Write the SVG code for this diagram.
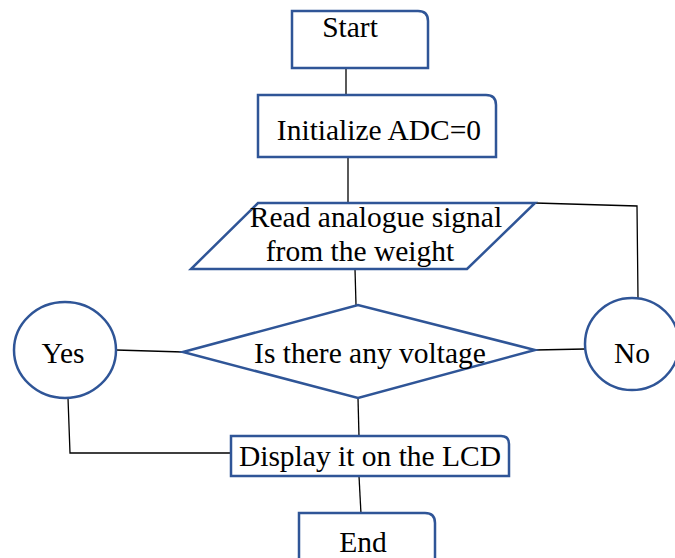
<svg xmlns="http://www.w3.org/2000/svg" width="675" height="558" viewBox="0 0 675 558">
<style>
.s{fill:#fff;stroke:#2F5597;stroke-width:2.5}
.c{fill:none;stroke:#000;stroke-width:1.3}
text{font-family:"Liberation Serif","Times New Roman",serif;font-size:29.5px;fill:#000;text-anchor:middle}
</style>
<rect width="675" height="558" fill="#fff"/>
<g id="connectors">
<line class="c" x1="346" y1="68" x2="346" y2="95"/>
<line class="c" x1="348" y1="157" x2="348" y2="203"/>
<polyline class="c" points="535,203 637,206 638,298"/>
<line class="c" x1="355" y1="269" x2="356" y2="305"/>
<line class="c" x1="116" y1="350" x2="183" y2="352"/>
<line class="c" x1="535" y1="350" x2="585" y2="349"/>
<line class="c" x1="358" y1="398" x2="359" y2="437"/>
<polyline class="c" points="68,398 70,453 232,453"/>
<line class="c" x1="359" y1="476" x2="361" y2="514"/>
</g>
<g id="start">
<path class="s" d="M292,11 H418 Q428,11 428,21 V68 H292 Z"/>
<text x="350" y="37">Start</text>
</g>
<g id="init">
<path class="s" d="M258,95 H486 Q496,95 496,105 V157 H258 Z"/>
<text x="379" y="140">Initialize ADC=0</text>
</g>
<g id="read">
<polygon class="s" points="258,203 535,203 467,269 191,269"/>
<text x="376" y="227">Read analogue signal</text>
<text x="360" y="261">from the weight</text>
</g>
<g id="decision">
<polygon class="s" points="183,352 358,305 535,350 358,398"/>
<text x="370" y="363">Is there any voltage</text>
</g>
<g id="yes">
<ellipse class="s" cx="65" cy="350" rx="51" ry="48"/>
<text x="63" y="363">Yes</text>
</g>
<g id="no">
<ellipse class="s" cx="632" cy="344" rx="47" ry="46"/>
<text x="632" y="363">No</text>
</g>
<g id="display">
<path class="s" d="M231,436 H501 Q509,436 509,444 V476 H231 Z"/>
<text x="370" y="466">Display it on the LCD</text>
</g>
<g id="end">
<path class="s" d="M299,513 H425 Q435,513 435,523 V570 H299 Z"/>
<text x="363" y="552">End</text>
</g>
</svg>
